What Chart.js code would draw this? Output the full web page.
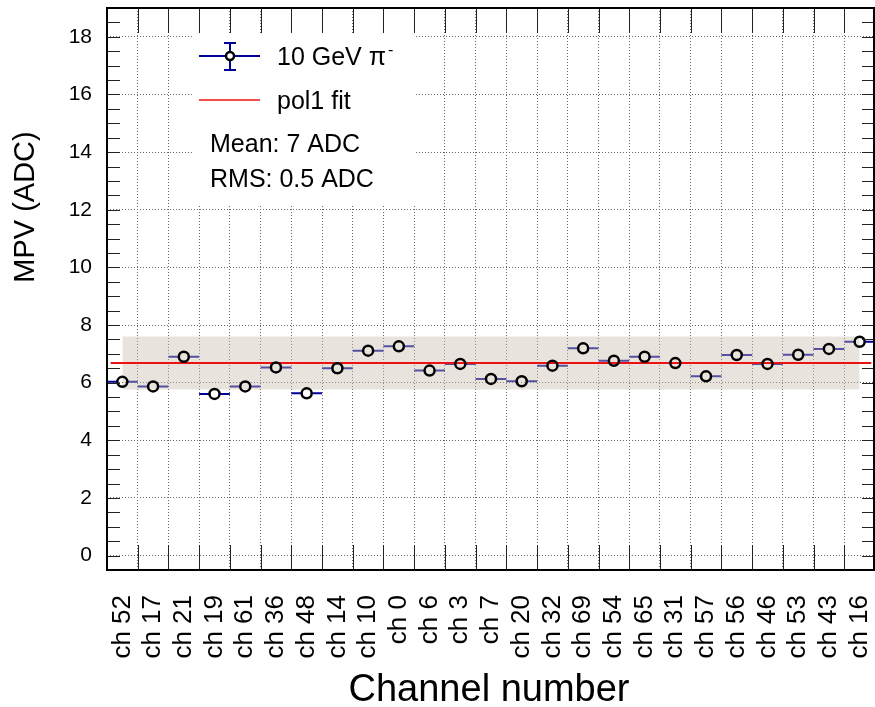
<!DOCTYPE html>
<html>
<head>
<meta charset="utf-8">
<script src="https://cdn.jsdelivr.net/npm/chart.js@4/dist/chart.umd.min.js"></script>
<style>
  html, body { margin: 0; padding: 0; background: #fff; }
  #wrap { width: 875px; height: 707px; }
</style>
</head>
<body>
<div id="wrap"><canvas id="canvas" width="875" height="707"></canvas></div>
<script>
const channels = ["ch 52", "ch 17", "ch 21", "ch 19", "ch 61", "ch 36", "ch 48", "ch 14", "ch 10", "ch 0",
    "ch 6", "ch 3", "ch 7", "ch 20", "ch 32", "ch 69", "ch 54", "ch 65", "ch 31", "ch 57",
    "ch 56", "ch 46", "ch 53", "ch 43", "ch 16"];
const mpv = [6.03, 5.87, 6.90, 5.61, 5.87, 6.53, 5.63, 6.50, 7.11, 7.26,
    6.42, 6.65, 6.13, 6.05, 6.59, 7.19, 6.76, 6.90, 6.68, 6.22,
    6.96, 6.65, 6.97, 7.17, 7.42];
const mpvErr = [0.12, 0.12, 0.12, 0.12, 0.12, 0.12, 0.12, 0.12, 0.12, 0.12,
    0.12, 0.12, 0.12, 0.12, 0.12, 0.12, 0.12, 0.12, 0.12, 0.20,
    0.12, 0.12, 0.12, 0.12, 0.12];
const fitValue = 6.68;
const fitRange = [0.12, 24.88];
const bandLow = 5.76;
const bandHigh = 7.60;
const yTicks = [0, 2, 4, 6, 8, 10, 12, 14, 16, 18];
const legendLines = ["10 GeV \u03c0", "pol1 fit", "Mean: 7 ADC", "RMS: 0.5 ADC"];

const FONT = "'Liberation Sans', Arial, Helvetica, sans-serif";
const BLUE = "#000099";
const RED = "#ee1111";

const points = mpv.map((v, i) => ({ x: i + 0.5, y: v }));

// ROOT-like frame, inward ticks, error bars, legend and titles
const rootStyle = {
    id: "rootStyle",
    beforeDatasetsDraw(chart) {
        const ctx = chart.ctx;
        const xs = chart.scales.x;
        const ys = chart.scales.y;

        // horizontal (bin width) and vertical error bars, drawn under the band
        ctx.save();
        ctx.strokeStyle = BLUE;
        ctx.lineWidth = 2;
        const r = 5.5;
        points.forEach((p, i) => {
            const px = xs.getPixelForValue(p.x);
            const py = ys.getPixelForValue(p.y);
            const l = xs.getPixelForValue(p.x - 0.5);
            const rr = xs.getPixelForValue(p.x + 0.5);
            ctx.beginPath();
            ctx.moveTo(l, py); ctx.lineTo(px - r, py);
            ctx.moveTo(px + r, py); ctx.lineTo(rr, py);
            const e1 = ys.getPixelForValue(p.y + mpvErr[i]);
            const e2 = ys.getPixelForValue(p.y - mpvErr[i]);
            if (py - e1 > r) {
                ctx.moveTo(px, e1); ctx.lineTo(px, py - r);
                ctx.moveTo(px, py + r); ctx.lineTo(px, e2);
            }
            ctx.stroke();
        });
        ctx.restore();

        // legend box
        ctx.save();
        ctx.fillStyle = "#fff";
        ctx.fillRect(193, 33, 222, 172);
        // error bar symbol
        ctx.strokeStyle = BLUE;
        ctx.lineWidth = 2;
        ctx.beginPath();
        ctx.moveTo(199, 56); ctx.lineTo(226, 56);
        ctx.moveTo(234, 56); ctx.lineTo(260, 56);
        ctx.moveTo(230, 43); ctx.lineTo(230, 52);
        ctx.moveTo(230, 60); ctx.lineTo(230, 70);
        ctx.moveTo(224, 43); ctx.lineTo(236, 43);
        ctx.moveTo(224, 70); ctx.lineTo(236, 70);
        ctx.stroke();
        ctx.strokeStyle = "#000";
        ctx.lineWidth = 2.5;
        ctx.beginPath();
        ctx.arc(230, 56, 4, 0, Math.PI * 2);
        ctx.stroke();
        // fit line symbol
        ctx.strokeStyle = RED;
        ctx.lineWidth = 1.5;
        ctx.beginPath();
        ctx.moveTo(199, 100); ctx.lineTo(260, 100);
        ctx.stroke();
        // texts
        ctx.fillStyle = "#000";
        ctx.font = "25px " + FONT;
        ctx.textBaseline = "alphabetic";
        ctx.textAlign = "left";
        ctx.fillText(legendLines[0], 277, 65);
        const w = ctx.measureText(legendLines[0]).width;
        ctx.font = "16px " + FONT;
        ctx.fillText("-", 277 + w + 2, 55);
        ctx.font = "25px " + FONT;
        ctx.fillText(legendLines[1], 277, 109);
        ctx.fillText(legendLines[2], 210, 152);
        ctx.fillText(legendLines[3], 210, 187);
        ctx.restore();
    },
    afterDraw(chart) {
        const ctx = chart.ctx;
        const a = chart.chartArea;
        const xs = chart.scales.x;
        const ys = chart.scales.y;
        ctx.save();
        ctx.strokeStyle = "#222";
        ctx.lineWidth = 1;
        ctx.beginPath();
        for (let k = 0; k <= 25; k++) {
            const px = Math.round(xs.getPixelForValue(k)) + 0.5;
            ctx.moveTo(px, a.bottom); ctx.lineTo(px, a.bottom - 25);
            ctx.moveTo(px, a.top); ctx.lineTo(px, a.top + 25);
        }
        for (let k = -1; k <= 38; k++) {
            const py = Math.round(ys.getPixelForValue(k / 2)) + 0.5;
            ctx.moveTo(a.left, py); ctx.lineTo(a.left + 13, py);
            ctx.moveTo(a.right, py); ctx.lineTo(a.right - 13, py);
        }
        ctx.stroke();
        // frame
        ctx.strokeStyle = "#000";
        ctx.lineWidth = 2;
        ctx.strokeRect(a.left, a.top, a.right - a.left - 1, a.bottom - a.top);
        // axis titles
        ctx.fillStyle = "#000";
        ctx.font = "38px " + FONT;
        ctx.textAlign = "center";
        ctx.textBaseline = "alphabetic";
        ctx.fillText("Channel number", (a.left + a.right) / 2 - 2, 701);
        ctx.translate(26, 207);
        ctx.rotate(-Math.PI / 2);
        ctx.font = "29px " + FONT;
        ctx.textBaseline = "middle";
        ctx.fillText("MPV (ADC)", 0, 0);
        ctx.restore();
    }
};

const config = {
    type: "scatter",
    data: {
        datasets: [
            {
                label: "10 GeV pi-",
                data: points,
                order: 0,
                pointStyle: "circle",
                radius: 5,
                hoverRadius: 5,
                borderWidth: 2.5,
                borderColor: "#000",
                backgroundColor: "rgba(0,0,0,0)",
            },
            {
                label: "pol1 fit",
                data: [{ x: fitRange[0], y: fitValue }, { x: fitRange[1], y: fitValue }],
                order: 1,
                showLine: true,
                borderColor: RED,
                borderWidth: 2,
                radius: 0,
            },
            {
                label: "band high",
                data: [{ x: points[0].x, y: bandHigh }, { x: points[points.length - 1].x, y: bandHigh }],
                order: 2,
                showLine: true,
                fill: "+1",
                borderWidth: 0,
                borderColor: "rgba(0,0,0,0)",
                backgroundColor: "rgba(200,190,175,0.42)",
                radius: 0,
            },
            {
                label: "band low",
                data: [{ x: points[0].x, y: bandLow }, { x: points[points.length - 1].x, y: bandLow }],
                order: 3,
                showLine: true,
                borderWidth: 0,
                borderColor: "rgba(0,0,0,0)",
                radius: 0,
            },
        ],
    },
    options: {
        animation: false,
        responsive: false,
        events: [],
        layout: { autoPadding: false, padding: { top: 8, right: 0, left: 0, bottom: 0 } },
        plugins: {
            legend: { display: false },
            tooltip: { enabled: false },
        },
        scales: {
            x: {
                type: "linear",
                min: 0,
                max: 25,
                afterBuildTicks: (scale) => {
                    scale.ticks = channels.map((c, i) => ({ value: i + 0.5 }));
                },
                afterFit: (scale) => {
                    scale.height = 137;
                    scale.paddingLeft = 0;
                    scale.paddingRight = 0;
                },
                ticks: {
                    autoSkip: false,
                    minRotation: 90,
                    maxRotation: 90,
                    padding: 25,
                    color: "#000",
                    font: { family: FONT, size: 26 },
                    callback: function (value, index) {
                        return channels[index];
                    },
                },
                grid: {
                    offset: true,
                    drawTicks: false,
                    color: "#666",
                    lineWidth: 1,
                },
                border: { display: false, dash: [1, 2] },
            },
            y: {
                min: -0.5,
                max: 19,
                afterBuildTicks: (scale) => {
                    scale.ticks = yTicks.map((v) => ({ value: v }));
                },
                afterFit: (scale) => {
                    scale.width = 107;
                    scale.paddingTop = 0;
                    scale.paddingBottom = 0;
                },
                ticks: {
                    padding: 15,
                    color: "#000",
                    font: { family: FONT, size: 21 },
                },
                grid: {
                    drawTicks: false,
                    color: "#666",
                    lineWidth: 1,
                },
                border: { display: false, dash: [1, 2] },
            },
        },
    },
    plugins: [rootStyle],
};

let chart;

function initGraph() {
    const context = document.getElementById("canvas");
    chart = new Chart(context, config);
}

initGraph();
</script>
</body>
</html>
